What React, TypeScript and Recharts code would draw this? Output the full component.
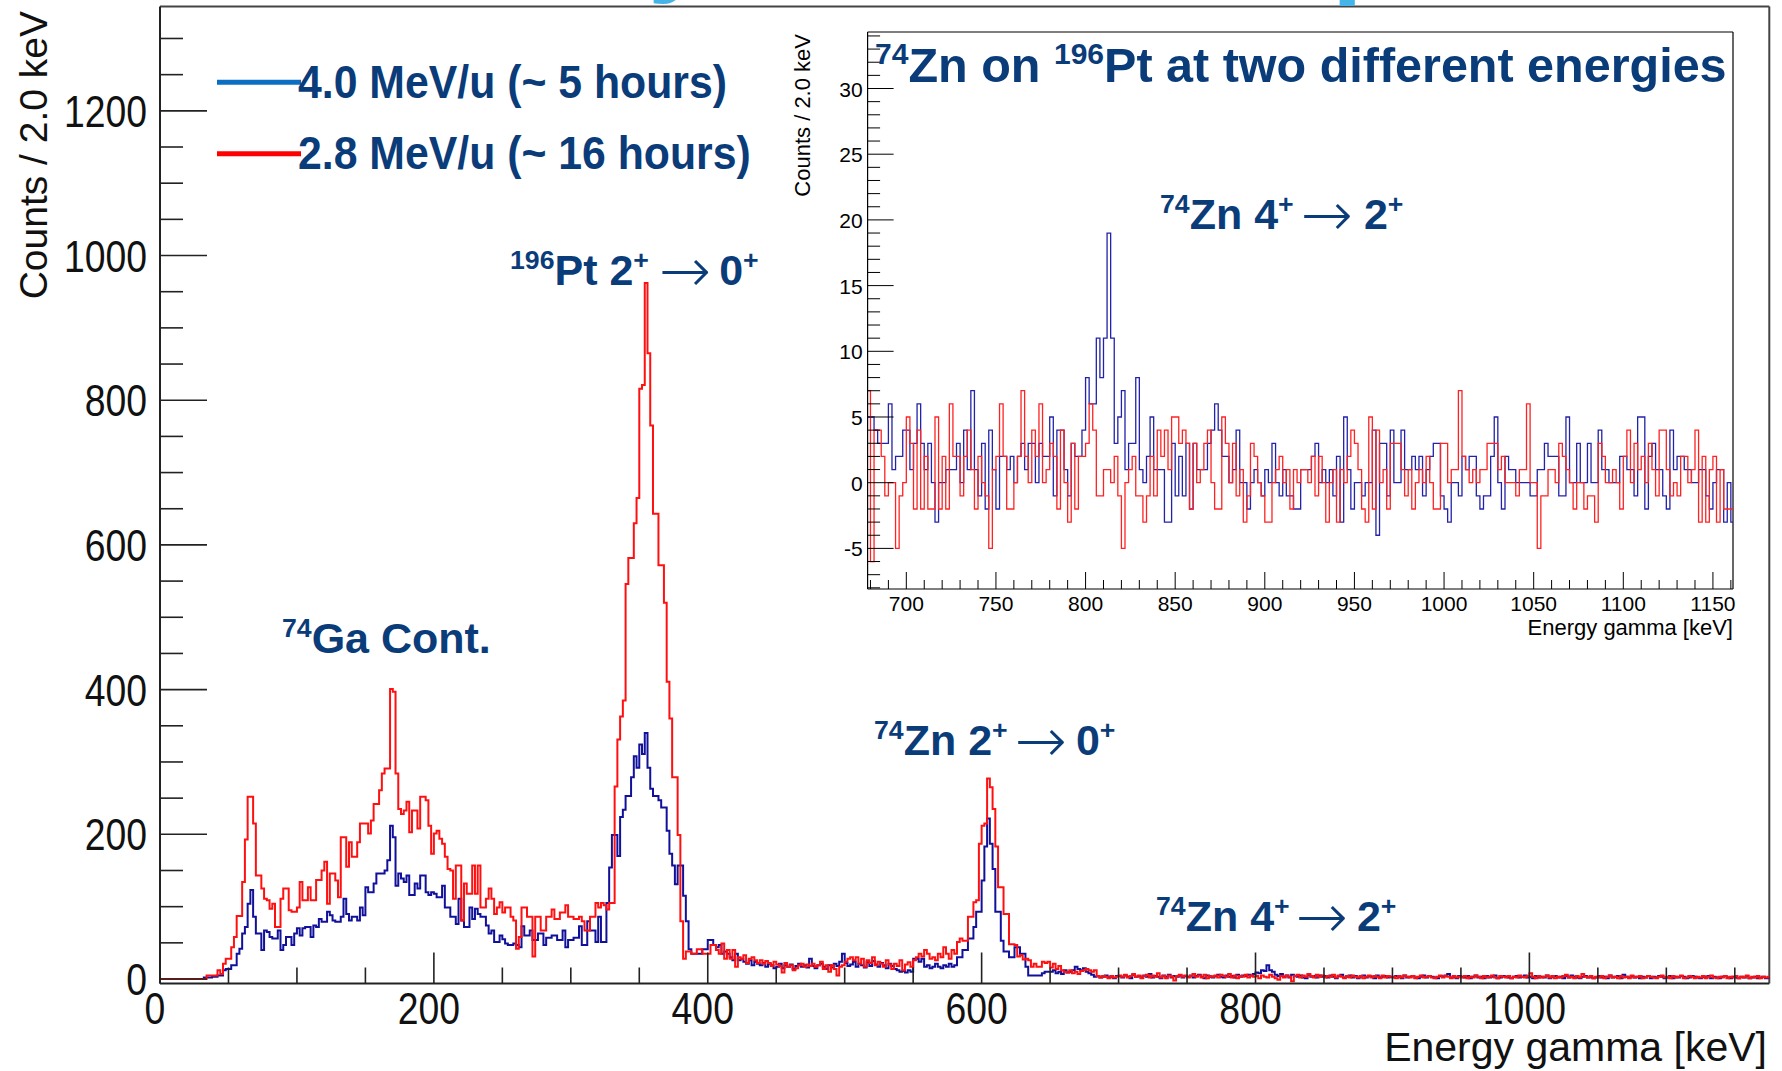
import React from 'react';
import { LineChart, Line, XAxis, YAxis, ReferenceLine } from 'recharts';

const FONT = "'Liberation Sans', Arial, Helvetica, sans-serif";
const ARROW_FONT = "'DejaVu Sans', 'Liberation Sans', sans-serif";
const NAVY = '#0b3c7a';

// ---------- main spectrum: counts per 2 keV bin, first bin starts at 0 keV ----------
const MAIN_BIN_START = 0;
const MAIN_BIN_WIDTH = 2;

// 4.0 MeV/u (~5 hours)
const mainBlue40 = [
  0,0,0,0,0,0,0,0,0,0,0,0,0,0,0,0,2,2,2,3,3,5,5,12,14,
  14,19,19,35,42,63,72,104,123,86,63,63,40,67,65,58,56,56,67,40,47,58,58,47,63,
  70,60,70,72,72,58,74,72,83,79,79,93,88,81,79,79,86,111,90,81,86,86,81,99,88,
  127,120,120,132,146,146,146,150,164,212,196,129,146,139,134,143,116,116,132,125,143,143,120,116,120,
  118,113,113,129,99,99,86,86,76,111,81,72,72,99,83,97,90,86,86,74,63,67,51,51,60,
  55,49,47,47,49,47,44,73,60,60,67,54,54,63,63,47,57,57,60,60,54,54,67,44,54,
  54,57,57,73,47,47,80,67,67,51,86,51,51,105,154,199,199,170,224,234,253,253,279,308,292,
  324,311,340,292,263,253,253,247,237,237,205,173,157,131,157,157,115,80,41,35,35,35,35,41,41,
  54,54,47,44,47,35,38,35,30,26,35,26,28,24,21,26,19,24,21,19,22,17,21,19,15,
  17,21,15,19,17,20,14,18,21,17,19,16,28,18,15,19,21,17,14,19,16,21,18,24,35,
  22,18,20,24,17,21,19,16,23,18,25,20,17,22,19,15,21,18,14,12,10,11,9,12,10,
  28,28,24,28,17,19,15,17,21,17,15,19,17,21,17,19,30,30,40,40,56,56,72,93,93,
  136,183,222,187,152,93,93,53,38,38,30,30,44,44,35,35,17,5,5,5,5,5,8,10,10,
  10,12,8,10,7,12,9,10,12,17,14,12,15,10,8,6,3,4,2,3,5,2,3,1,4,
  4,2,5,3,1,6,3,4,2,5,3,7,2,4,3,1,5,3,6,2,4,3,5,2,4,
  3,5,2,4,6,3,1,5,3,2,4,6,3,2,5,3,4,2,6,3,5,4,6,5,7,
  9,8,12,11,19,12,10,6,4,7,3,5,2,6,4,3,5,2,1,6,3,4,2,5,3,
  4,2,5,3,1,4,6,2,3,5,2,4,1,3,5,2,4,3,1,5,2,3,4,2,3,
  2,4,3,1,5,2,3,4,2,1,3,5,2,4,3,2,1,4,3,5,7,2,3,1,4,
  3,2,4,1,3,5,2,3,1,4,2,3,5,1,2,4,3,2,1,3,4,2,3,5,2,
  3,1,4,2,3,2,5,1,3,4,2,3,1,4,2,5,3,2,1,3,4,2,3,1,2,
  4,2,3,1,5,2,3,4,1,6,3,2,4,2,3,1,3,2,4,1,3,2,4,3,1,
  2,4,1,3,2,4,3,1,2,4,3,2,1,3,2,4,1,3,2,1,3,4,2,1,3,
  2,1,3,2,4,1,2,3,1,2,3,1,2,
];

// 2.8 MeV/u (~16 hours)
const mainRed28 = [
  0,0,0,0,0,0,0,0,0,0,0,0,0,0,0,0,0,5,5,5,5,12,7,21,28,
  28,44,58,87,87,134,193,252,252,215,143,143,125,111,109,97,104,72,72,111,125,125,95,93,93,
  99,134,109,109,127,109,109,137,137,150,162,104,146,146,136,113,196,196,155,189,169,169,189,215,215,
  215,201,219,242,242,261,284,291,291,401,397,284,235,228,233,245,203,233,233,208,252,252,247,212,173,
  201,205,194,187,169,152,150,111,157,157,81,132,118,118,157,118,157,99,99,111,125,111,90,99,106,
  92,99,99,86,81,42,58,99,99,86,86,31,86,86,67,67,86,86,96,83,83,92,92,102,86,
  86,83,83,86,80,67,67,86,86,105,99,105,102,96,105,105,266,331,363,385,546,582,582,630,665,
  816,821,962,865,765,643,643,572,572,520,411,360,279,279,199,80,28,38,38,35,35,41,41,35,35,
  35,47,47,40,35,49,28,40,28,40,17,30,28,33,22,28,30,26,22,26,21,25,22,18,24,
  20,18,9,22,17,19,12,15,19,21,17,20,18,21,17,19,24,14,19,10,19,14,5,17,19,
  24,28,30,26,30,21,28,17,26,22,30,19,24,21,17,26,20,14,21,18,26,12,20,23,17,
  26,30,35,31,40,35,28,30,26,35,30,44,35,28,40,35,51,56,53,53,86,86,106,109,187,
  212,215,277,265,235,183,127,127,90,90,48,48,47,31,33,27,28,26,17,21,17,17,24,22,24,
  16,21,14,18,12,10,9,12,8,10,7,11,12,14,12,10,12,4,2,4,3,1,4,2,3,
  5,3,6,2,4,7,3,5,1,4,6,2,5,3,8,2,4,1,5,3,-2,4,6,3,5,
  2,4,7,3,5,2,6,1,4,3,5,2,6,4,3,7,2,5,1,4,3,6,2,5,3,
  4,1,5,3,2,6,3,1,-1,4,2,5,3,-3,4,6,2,5,3,7,4,2,6,3,5,
  2,4,3,6,2,5,3,1,4,2,5,3,2,4,1,3,5,2,4,3,1,5,2,4,3,
  3,1,4,2,5,3,2,4,1,3,5,2,3,4,2,1,3,5,2,4,3,1,4,2,3,
  2,4,1,3,2,5,3,1,4,2,3,5,2,1,4,3,2,4,1,3,2,5,3,2,4,
  8,3,1,4,2,3,5,2,4,1,3,2,4,6,2,3,1,4,2,7,3,2,4,1,3,
  2,4,1,3,5,2,3,1,4,2,3,1,5,2,3,4,1,2,4,3,2,1,3,5,2,
  3,1,4,2,3,5,1,2,4,3,1,3,2,4,1,3,5,2,1,3,2,4,1,3,2,
  4,1,3,2,5,1,3,2,4,1,3,2,3,
];

// ---------- inset: 2 keV bins starting at 678 keV ----------
const INSET_BIN_START = 678;
const INSET_BIN_WIDTH = 2;

const insetBlue40 = [
  5,5,4,3,3,3,6,1,2,2, 4,4,1,3,6,3,1,3,0,-3, 0,0,1,1,1,3,0,4,1,7, 1,-1,3,-2,4,1,-2,2,2,1,
  2,0,2,3,1,3,3,0,3,2, 2,5,-1,4,4,1,-1,3,2,2, 4,8,6,6,11,8,11,19,11,3, 5,7,1,3,3,8,1,0,2,5,
  1,1,1,-3,-3,3,-1,2,-1,3, -2,3,1,1,1,3,4,6,4,2, 2,0,1,4,0,0,-2,0,1,0, -1,1,0,3,0,-1,1,-1,-1,-2,
  -2,1,1,1,2,3,0,1,0,1, -1,2,-3,5,1,-2,0,0,-1,0, 0,4,-4,3,3,-1,4,0,0,4, 1,1,2,1,2,-1,1,2,3,3,
  -1,-2,-3,0,0,-1,2,1,2,2, -1,-2,-1,-1,2,5,0,-2,2,1, 1,0,0,0,0,-1,-1,1,1,3, 2,2,2,-1,-1,5,0,0,3,0,
  0,3,0,0,4,1,1,0,0,0, 2,2,1,1,-1,5,5,-2,2,3, 1,1,-1,-2,4,1,2,2,1,1, 0,0,1,1,-1,-2,0,1,1,-3,
  0,-3,
];

const insetRed28 = [
  7,-6,4,4,2,-1,0,0,-5,-1, 0,5,3,-2,4,-2,2,-2,-2,5, -2,2,-2,6,2,2,-1,2,4,1, -2,2,0,-1,-5,1,2,6,2,-2,
  -2,0,2,7,2,0,4,2,6,0, 1,3,2,-2,4,0,-3,3,-2,2, 2,3,6,4,-1,-1,1,1,0,2, -1,-5,0,1,2,-1,-1,-3,-1,2,
  -1,4,2,4,1,5,5,3,4,3, -2,3,0,1,3,4,0,-2,-2,5, 3,0,3,-1,1,-3,-1,3,2,0, -1,-3,-3,0,1,2,0,1,-2,1,
  0,1,1,0,2,-1,2,0,-3,0, 1,-3,1,0,2,4,3,1,-2,-3, 5,-2,4,0,1,-2,3,3,3,1, -1,1,-2,0,1,0,2,0,-2,-2,
  3,3,0,1,1,7,2,1,0,1, 0,1,1,3,3,3,1,2,0,0, 0,-1,1,1,6,0,0,-5,-1,-1, 1,1,0,3,2,1,0,-2,0,0,
  -2,-1,-1,-3,3,2,0,0,1,0, -2,2,4,0,3,1,2,0,3,1, -1,4,4,1,-1,0,-1,2,2,0, 1,4,-3,2,-3,1,2,-3,1,-2,
  -2,-2,
];

// ---------- axes ----------
const mainXDomain = [0, 1175.2];
const mainYDomain = [-6.2, 1344.2];
const mainXTicks = [0,50,100,150,200,250,300,350,400,450,500,550,600,650,700,750,800,850,900,950,1000,1050,1100,1150];
const mainXLabelTicks = [0, 200, 400, 600, 800, 1000];
const mainYTicks = [0,50,100,150,200,250,300,350,400,450,500,550,600,650,700,750,800,850,900,950,1000,1050,1100,1150,1200,1250,1300];
const mainYLabelTicks = [0, 200, 400, 600, 800, 1000, 1200];

const insetXDomain = [678.4, 1161.2];
const insetYDomain = [-8.09, 34.3];
const insetXTicks = [680,690,700,710,720,730,740,750,760,770,780,790,800,810,820,830,840,850,860,870,880,890,900,910,920,930,940,950,960,970,980,990,1000,1010,1020,1030,1040,1050,1060,1070,1080,1090,1100,1110,1120,1130,1140,1150,1160];
const insetXLabelTicks = [700,750,800,850,900,950,1000,1050,1100,1150];
const insetYTicks = [-8,-7,-6,-5,-4,-3,-2,-1,0,1,2,3,4,5,6,7,8,9,10,11,12,13,14,15,16,17,18,19,20,21,22,23,24,25,26,27,28,29,30,31,32,33,34];
const insetYLabelTicks = [-5, 0, 5, 10, 15, 20, 25, 30];

function buildTable(start: number, width: number, blue: number[], red: number[]) {
  const rows = blue.map((b, i) => ({ e: start + i * width, blue: b, red: red[i] }));
  rows.push({ e: start + blue.length * width, blue: blue[blue.length - 1], red: red[red.length - 1] });
  return rows;
}

const mainData = buildTable(MAIN_BIN_START, MAIN_BIN_WIDTH, mainBlue40, mainRed28);
const insetData = buildTable(INSET_BIN_START, INSET_BIN_WIDTH, insetBlue40, insetRed28);

// ---------- tick renderers ----------
const TICK_FS = 45;
const TICK_SX = 0.83;

const MainXTick = (props: any) => {
  const { x, y, payload } = props;
  const v = payload.value;
  const major = mainXLabelTicks.includes(v);
  return (
    <g>
      <line x1={x} x2={x} y1={y} y2={y - (major ? 31 : 16)} stroke="#222" strokeWidth={1.6} />
      {major && (
        <text transform={`translate(${x - 5},${y + 40}) scale(${TICK_SX},1)`} textAnchor="middle" fontFamily={FONT} fontSize={TICK_FS} fill="#111">{v}</text>
      )}
    </g>
  );
};

const MainYTick = (props: any) => {
  const { x, y, payload } = props;
  const v = payload.value;
  const major = mainYLabelTicks.includes(v);
  return (
    <g>
      <line x1={x} x2={x + (major ? 47 : 23)} y1={y} y2={y} stroke="#222" strokeWidth={1.6} />
      {major && (
        <text transform={`translate(${x - 13},${y + 16}) scale(${TICK_SX},1)`} textAnchor="end" fontFamily={FONT} fontSize={TICK_FS} fill="#111">{v}</text>
      )}
    </g>
  );
};

const InsetXTick = (props: any) => {
  const { x, y, payload } = props;
  const v = payload.value;
  const major = v % 50 === 0;
  return (
    <g>
      <line x1={x} x2={x} y1={y} y2={y - (major ? 17 : 9)} stroke="#000" strokeWidth={1} />
      {major && (
        <text x={x} y={y + 22} textAnchor="middle" fontFamily={FONT} fontSize={21} fill="#000">{v}</text>
      )}
    </g>
  );
};

const InsetYTick = (props: any) => {
  const { x, y, payload } = props;
  const v = payload.value;
  const major = insetYLabelTicks.includes(v);
  return (
    <g>
      <line x1={x} x2={x + (major ? 26 : 12.5)} y1={y} y2={y} stroke="#000" strokeWidth={1} />
      {major && (
        <text x={x - 5} y={y + 8} textAnchor="end" fontFamily={FONT} fontSize={21} fill="#000">{v}</text>
      )}
    </g>
  );
};

// ---------- rich text with superscripts ----------
type Part = { t: string; sup?: boolean; arrow?: boolean; dx?: number };

function Rich({ x, y, size, parts, fill = NAVY }: { x: number; y: number; size: number; parts: Part[]; fill?: string }) {
  const supSize = size * 0.62;
  const rise = size * 0.37;
  const arrowSize = size * 1.45;
  const arrowDrop = size * 0.16;
  let shift = 0; // current baseline offset (positive = down)
  const kids = parts.map((p, i) => {
    const target = p.sup ? -rise : p.arrow ? arrowDrop : 0;
    const dy = target - shift;
    shift = target;
    return (
      <tspan
        key={i}
        dy={dy}
        dx={p.dx || 0}
        fontSize={p.sup ? supSize : p.arrow ? arrowSize : size}
        fontWeight={p.arrow ? 200 : 700}
        fontFamily={p.arrow ? ARROW_FONT : FONT}
      >{p.t}</tspan>
    );
  });
  return (
    <text x={x} y={y} fontFamily={FONT} fill={fill} xmlSpace="preserve" style={{ whiteSpace: 'pre' }}>{kids}</text>
  );
}

const ARROW = '\u2192';

function transition(nucleus: string, mass: string, from: string, to: string, gap1: number, gap2: number): Part[] {
  return [
    { t: mass, sup: true },
    { t: `${nucleus} ${from}` },
    { t: '+', sup: true },
    { t: ARROW, arrow: true, dx: gap1 },
    { t: to, dx: gap2 },
    { t: '+', sup: true },
  ];
}

export default function App() {
  return (
    <div style={{ position: 'absolute', left: 0, top: 0, width: 1782, height: 1071, background: '#fff' }}>
      {/* main spectrum */}
      <div style={{ position: 'absolute', left: 0, top: 0 }}>
        <LineChart width={1782} height={1071} data={mainData} margin={{ top: 6.5, right: 12.7, bottom: 0, left: 0 }}>
          <XAxis
            dataKey="e" type="number" domain={mainXDomain} allowDataOverflow ticks={mainXTicks} interval={0}
            height={87.5} tickSize={0} tickMargin={0} tickLine={false}
            axisLine={{ stroke: '#222', strokeWidth: 2 }} tick={(p: any) => <MainXTick {...p} />}
          />
          <YAxis
            type="number" domain={mainYDomain} allowDataOverflow ticks={mainYTicks} interval={0}
            width={160} tickSize={0} tickMargin={0} tickLine={false}
            axisLine={{ stroke: '#222', strokeWidth: 2 }} tick={(p: any) => <MainYTick {...p} />}
          />
          <ReferenceLine y={mainYDomain[1]} stroke="#444" strokeWidth={2} />
          <ReferenceLine x={mainXDomain[1]} stroke="#444" strokeWidth={2} />
          <Line type="stepAfter" dataKey="blue" stroke="#10109a" strokeWidth={2} dot={false} activeDot={false} isAnimationActive={false} />
          <Line type="stepAfter" dataKey="red" stroke="#ff1010" strokeWidth={2} dot={false} activeDot={false} isAnimationActive={false} />
        </LineChart>
      </div>

      {/* inset */}
      <div style={{ position: 'absolute', left: 775, top: 22, width: 975, height: 630, background: '#fff' }}>
        <LineChart width={975} height={630} data={insetData} margin={{ top: 10, right: 17, bottom: 0, left: 0 }}>
          <XAxis
            dataKey="e" type="number" domain={insetXDomain} allowDataOverflow ticks={insetXTicks} interval={0}
            height={63} tickSize={0} tickMargin={0} tickLine={false}
            axisLine={{ stroke: '#000', strokeWidth: 1.2 }} tick={(p: any) => <InsetXTick {...p} />}
          />
          <YAxis
            type="number" domain={insetYDomain} allowDataOverflow ticks={insetYTicks} interval={0}
            width={92.6} tickSize={0} tickMargin={0} tickLine={false}
            axisLine={{ stroke: '#000', strokeWidth: 1.2 }} tick={(p: any) => <InsetYTick {...p} />}
          />
          <ReferenceLine y={insetYDomain[1]} stroke="#000" strokeWidth={1.2} />
          <ReferenceLine x={insetXDomain[1]} stroke="#000" strokeWidth={1.2} />
          <Line type="stepAfter" dataKey="blue" stroke="#2222aa" strokeWidth={1.3} dot={false} activeDot={false} isAnimationActive={false} />
          <Line type="stepAfter" dataKey="red" stroke="#ff2222" strokeWidth={1.3} dot={false} activeDot={false} isAnimationActive={false} />
        </LineChart>
      </div>

      {/* text overlay */}
      <svg width={1782} height={1071} style={{ position: 'absolute', left: 0, top: 0, pointerEvents: 'none' }}>
        {/* cut-off slide title above the plot */}
        <text x={648} y={-19} fontFamily={FONT} fontWeight={700} fontSize={110} fill="#45b4e8">y</text>
        <text x={1332} y={-17} fontFamily={FONT} fontWeight={700} fontSize={110} fill="#45b4e8">p</text>

        {/* main axis titles */}
        <text transform="translate(47,11) rotate(-90)" textAnchor="end" fontFamily={FONT} fontSize={39} fill="#111">Counts / 2.0 keV</text>
        <text x={1767} y={1061} textAnchor="end" fontFamily={FONT} fontSize={41} fill="#111">Energy gamma [keV]</text>

        {/* legend */}
        <line x1={217} x2={301} y1={82.3} y2={82.3} stroke="#0a6fc2" strokeWidth={5} />
        <text transform="translate(298,98) scale(0.93,1)" fontFamily={FONT} fontWeight={700} fontSize={46} fill={NAVY}>4.0 MeV/u (~ 5 hours)</text>
        <line x1={217} x2={301} y1={153.7} y2={153.7} stroke="#ff0000" strokeWidth={5} />
        <text transform="translate(298,169) scale(0.93,1)" fontFamily={FONT} fontWeight={700} fontSize={46} fill={NAVY}>2.8 MeV/u (~ 16 hours)</text>

        {/* main annotations */}
        <Rich x={510} y={285} size={43} parts={transition('Pt', '196', '2', '0', 10, 8)} />
        <Rich x={282} y={653} size={43} parts={[{ t: '74', sup: true }, { t: 'Ga Cont.' }]} />
        <Rich x={874} y={755} size={43} parts={transition('Zn', '74', '2', '0', 7, 9)} />
        <Rich x={1156} y={931} size={43} parts={transition('Zn', '74', '4', '2', 6, 9)} />

        {/* inset titles */}
        <Rich x={875} y={82} size={48.5} parts={[{ t: '74', sup: true }, { t: 'Zn on ' }, { t: '196', sup: true }, { t: 'Pt at two different energies' }]} />
        <Rich x={1160} y={229} size={43} parts={transition('Zn', '74', '4', '2', 7, 11)} />
        <text transform="translate(810,34) rotate(-90)" textAnchor="end" fontFamily={FONT} fontSize={22} fill="#000">Counts / 2.0 keV</text>
        <text x={1733} y={635} textAnchor="end" fontFamily={FONT} fontSize={22} fill="#000">Energy gamma [keV]</text>
      </svg>
    </div>
  );
}
